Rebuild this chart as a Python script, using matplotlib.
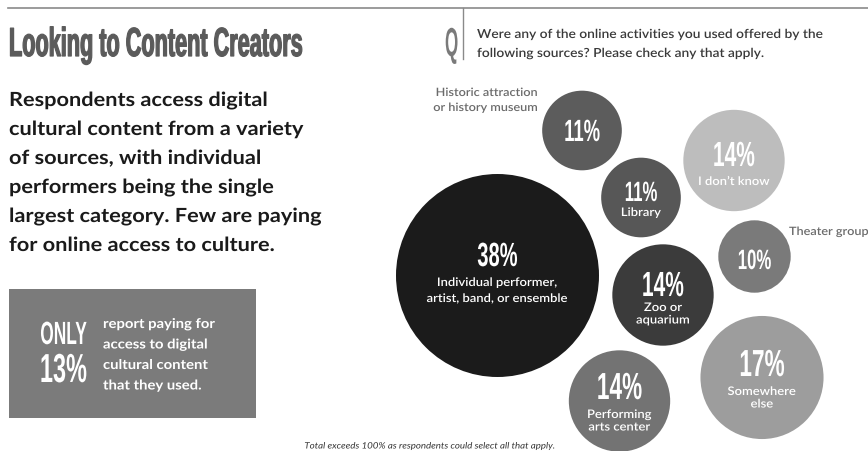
import matplotlib
matplotlib.use("Agg")
import matplotlib.pyplot as plt
from matplotlib.patches import Circle, Rectangle
from matplotlib.lines import Line2D
from matplotlib.patheffects import AbstractPathEffect
from matplotlib.transforms import Affine2D

# ---- data -------------------------------------------------------------
categories = [
    "Individual performer,\nartist, band, or ensemble",
    "Historic attraction\nor history museum",
    "Library",
    "I don\u2019t know",
    "Theater group",
    "Zoo or\naquarium",
    "Somewhere\nelse",
    "Performing\narts center",
]
shares = [38, 11, 11, 14, 10, 14, 17, 14]
paid_share = 13

title = "Looking to Content Creators"
question = ["Were any of the online activities you used offered by the",
            "following sources? Please check any that apply."]
summary = ["Respondents access digital",
           "cultural content from a variety",
           "of sources, with individual",
           "performers being the single",
           "largest category. Few are paying",
           "for online access to culture."]
callout = ["report paying for", "access to digital",
           "cultural content", "that they used."]
footnote = "Total exceeds 100% as respondents could select all that apply."

# ---- layout (pixel space) ---------------------------------------------
W, H = 868, 452
centers = [(497.5, 276.5), (582, 131.5), (641, 198.5), (734, 161.5),
           (754.5, 257.5), (663, 296), (762, 378.5), (619.5, 402)]
fills = ["#1b1b1b", "#5c5c5c", "#575757", "#bdbdbd",
         "#7a7a7a", "#3b3b3b", "#9d9d9d", "#737373"]
pct_cap = [24, 22, 20, 25, 20, 25, 27, 27]          # digit height, px
pct_base = [267, 142, 202, 167, 270, 297, 377, 400]  # baseline y, px
label_base = [287, None, 217, 186, None, 312, 396, 419]
label_step = [16, 0, 0, 0, 0, 12.5, 12.5, 12.5]
outside = {1: (538, 97, "right", 15), 4: (789, 236, "left", 0)}

PT = 0.72            # px -> pt at 100 dpi
CAP = 0.716          # cap height / em for Liberation Sans
DISPLAY = "Liberation Sans"
BODY = ["Lato", "DejaVu Sans"]


class VStretch(AbstractPathEffect):
    """Stretch glyph outlines vertically about the baseline.

    The text is set at a size that gives the wanted width, then its
    height is stretched, which yields condensed (sy > 1) or extended
    (sy < 1) letterforms while the text extent keeps the true width.
    """

    def __init__(self, sy, stroke=0.0):
        super().__init__()
        self.sy = sy
        self.stroke = stroke

    def draw_path(self, renderer, gc, tpath, affine, rgbFace=None):
        if len(tpath.vertices) == 0:
            return
        tr = Affine2D().scale(1, self.sy) + affine
        if self.stroke > 0:
            gc0 = renderer.new_gc()
            gc0.copy_properties(gc)
            gc0.set_linewidth(self.stroke)
            gc0.set_foreground(rgbFace)
            gc0.set_joinstyle("round")
            renderer.draw_path(gc0, tpath, tr, rgbFace)
            gc0.restore()
        else:
            renderer.draw_path(gc, tpath, tr, rgbFace)


def put(ax, x, y, s, em_px, sx, family, color, ha="left", weight="bold",
        style="normal", stroke=0.0):
    """Draw one line with em height em_px and horizontal proportion sx."""
    return ax.text(x, y, s, fontsize=em_px * sx * PT, family=family,
                   weight=weight, style=style, color=color, ha=ha,
                   va="baseline", path_effects=[VStretch(1.0 / sx, stroke)])


def display_text(ax, x, y, s, cap_px, sx, color, ha="left", stroke=0.0):
    return put(ax, x, y, s, cap_px / CAP, sx, DISPLAY, color, ha=ha,
               weight="bold", stroke=stroke)


def body_lines(ax, x, y0, lines, size_px, step, color, ha="left",
               weight="bold", style="normal", sx=1.1):
    for i, line in enumerate(lines):
        put(ax, x, y0 + i * step, line, size_px, sx, BODY, color, ha=ha,
            weight=weight, style=style)


fig = plt.figure(figsize=(W / 100, H / 100), dpi=100)
ax = fig.add_axes([0, 0, 1, 1])
ax.set_xlim(0, W)
ax.set_ylim(H, 0)
ax.axis("off")

# header rules
ax.add_line(Line2D([8, W], [8.5, 8.5], color="#8a8a8a", lw=1.2))
ax.add_line(Line2D([463, 463], [9, 60], color="#8a8a8a", lw=1.0))

display_text(ax, 9, 57, title, 29, 0.535, "#5b5b5b", stroke=0.9)
display_text(ax, 445, 57, "Q", 29, 0.42, "#7a7a7a")
body_lines(ax, 477, 39, question, 12.5, 19, "#3a3a3a", weight="semibold", sx=1.1)

# summary paragraph
body_lines(ax, 9, 107, summary, 19.5, 29, "#1a1a1a", weight="bold", sx=1.115)

# callout box
ax.add_patch(Rectangle((9, 290), 247, 129, facecolor="#7b7b7b", edgecolor="none"))
display_text(ax, 63.5, 345, "ONLY", 23, 0.54, "white", ha="center")
display_text(ax, 63.5, 383, f"{paid_share}%", 29, 0.58, "white", ha="center")
body_lines(ax, 103, 329, callout, 13.5, 20.5, "white", weight="bold", sx=1.1)

# bubbles
for i, (cat, v) in enumerate(zip(categories, shares)):
    cx, cy = centers[i]
    r = min(3.62 * v, 101.5)
    ax.add_patch(Circle((cx, cy), r, facecolor=fills[i], edgecolor="none"))
    display_text(ax, cx, pct_base[i], f"{v}%", pct_cap[i], 0.6, "white", ha="center")
    if i in outside:
        lx, ly, lha, lstep = outside[i]
        body_lines(ax, lx, ly, cat.split("\n"), 11.5, lstep, "#6b6b6b",
                   ha=lha, weight="semibold")
    else:
        body_lines(ax, cx, label_base[i], cat.split("\n"), 11.8, label_step[i],
                   "white", ha="center", weight="semibold")

body_lines(ax, 429, 449.5, [footnote], 8.8, 0, "#333333", ha="center",
           weight="normal", style="italic")

fig.savefig("out.png", dpi=100)
